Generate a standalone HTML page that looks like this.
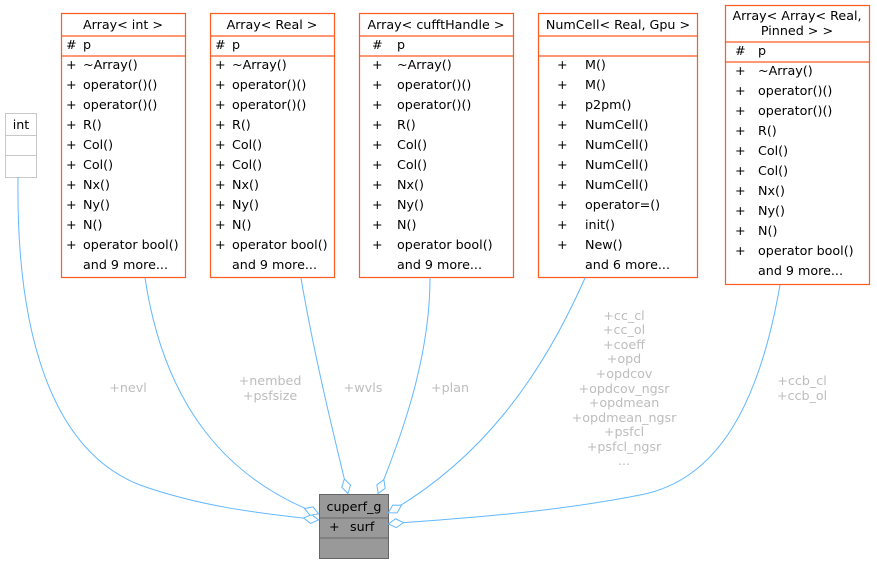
<!DOCTYPE html>
<html><head><meta charset="utf-8"><style>
body{margin:0;background:#fff}
svg{display:block;font-family:"DejaVu Sans","Liberation Sans",sans-serif;font-size:12.7px}
.b{fill:#fff;stroke:#ff5a1f;stroke-width:1.2}
.l{stroke:#ff5a1f;stroke-width:1.2}
.e{fill:none;stroke:#63b8ff;stroke-width:1}
.g{fill:#bdbdbd;text-anchor:middle}
</style></head><body>
<svg width="877" height="565" viewBox="0 0 877 565">
<defs><marker id="d" markerUnits="userSpaceOnUse" markerWidth="18" markerHeight="12" refX="16" refY="5" orient="auto"><path d="M0.5,5 L8,0.5 L15.5,5 L8,9.5 z" fill="#fff" stroke="#63b8ff"/></marker></defs>

<!-- int -->
<rect x="5.5" y="113.5" width="31" height="64" fill="#fff" stroke="#c8c8c8"/>
<line x1="5.5" y1="135.5" x2="36.5" y2="135.5" stroke="#c8c8c8"/>
<line x1="5.5" y1="155.5" x2="36.5" y2="155.5" stroke="#c8c8c8"/>
<text x="21" y="129" text-anchor="middle">int</text>

<!-- Array<int> -->
<g>
<rect class="b" x="61.5" y="13.5" width="124" height="264"/>
<line class="l" x1="61.5" y1="36" x2="185.5" y2="36"/><line class="l" x1="61.5" y1="56" x2="185.5" y2="56"/>
<text x="123" y="29" text-anchor="middle">Array&lt; int &gt;</text>
<text x="66" y="49">#</text><text x="83" y="49">p</text>
<text x="66" y="69">+</text><text x="83" y="69">~Array()</text>
<text x="66" y="89">+</text><text x="83" y="89">operator()()</text>
<text x="66" y="109">+</text><text x="83" y="109">operator()()</text>
<text x="66" y="129">+</text><text x="83" y="129">R()</text>
<text x="66" y="149">+</text><text x="83" y="149">Col()</text>
<text x="66" y="169">+</text><text x="83" y="169">Col()</text>
<text x="66" y="189">+</text><text x="83" y="189">Nx()</text>
<text x="66" y="209">+</text><text x="83" y="209">Ny()</text>
<text x="66" y="229">+</text><text x="83" y="229">N()</text>
<text x="66" y="249">+</text><text x="83" y="249">operator bool()</text>
<text x="83" y="269">and 9 more...</text>
</g>

<!-- Array<Real> -->
<g>
<rect class="b" x="210.5" y="13.5" width="124" height="264"/>
<line class="l" x1="210.5" y1="36" x2="334.5" y2="36"/><line class="l" x1="210.5" y1="56" x2="334.5" y2="56"/>
<text x="272" y="29" text-anchor="middle">Array&lt; Real &gt;</text>
<text x="215" y="49">#</text><text x="232" y="49">p</text>
<text x="215" y="69">+</text><text x="232" y="69">~Array()</text>
<text x="215" y="89">+</text><text x="232" y="89">operator()()</text>
<text x="215" y="109">+</text><text x="232" y="109">operator()()</text>
<text x="215" y="129">+</text><text x="232" y="129">R()</text>
<text x="215" y="149">+</text><text x="232" y="149">Col()</text>
<text x="215" y="169">+</text><text x="232" y="169">Col()</text>
<text x="215" y="189">+</text><text x="232" y="189">Nx()</text>
<text x="215" y="209">+</text><text x="232" y="209">Ny()</text>
<text x="215" y="229">+</text><text x="232" y="229">N()</text>
<text x="215" y="249">+</text><text x="232" y="249">operator bool()</text>
<text x="232" y="269">and 9 more...</text>
</g>

<!-- Array<cufftHandle> -->
<g>
<rect class="b" x="359.5" y="13.5" width="154" height="264"/>
<line class="l" x1="359.5" y1="36" x2="513.5" y2="36"/><line class="l" x1="359.5" y1="56" x2="513.5" y2="56"/>
<text x="436" y="29" text-anchor="middle">Array&lt; cufftHandle &gt;</text>
<text x="372" y="49">#</text><text x="397" y="49">p</text>
<text x="372" y="69">+</text><text x="397" y="69">~Array()</text>
<text x="372" y="89">+</text><text x="397" y="89">operator()()</text>
<text x="372" y="109">+</text><text x="397" y="109">operator()()</text>
<text x="372" y="129">+</text><text x="397" y="129">R()</text>
<text x="372" y="149">+</text><text x="397" y="149">Col()</text>
<text x="372" y="169">+</text><text x="397" y="169">Col()</text>
<text x="372" y="189">+</text><text x="397" y="189">Nx()</text>
<text x="372" y="209">+</text><text x="397" y="209">Ny()</text>
<text x="372" y="229">+</text><text x="397" y="229">N()</text>
<text x="372" y="249">+</text><text x="397" y="249">operator bool()</text>
<text x="397" y="269">and 9 more...</text>
</g>

<!-- NumCell -->
<g>
<rect class="b" x="538.5" y="13.5" width="159" height="264"/>
<line class="l" x1="538.5" y1="36" x2="697.5" y2="36"/><line class="l" x1="538.5" y1="56" x2="697.5" y2="56"/>
<text x="618" y="29" text-anchor="middle">NumCell&lt; Real, Gpu &gt;</text>
<text x="557" y="69">+</text><text x="585" y="69">M()</text>
<text x="557" y="89">+</text><text x="585" y="89">M()</text>
<text x="557" y="109">+</text><text x="585" y="109">p2pm()</text>
<text x="557" y="129">+</text><text x="585" y="129">NumCell()</text>
<text x="557" y="149">+</text><text x="585" y="149">NumCell()</text>
<text x="557" y="169">+</text><text x="585" y="169">NumCell()</text>
<text x="557" y="189">+</text><text x="585" y="189">NumCell()</text>
<text x="557" y="209">+</text><text x="585" y="209">operator=()</text>
<text x="557" y="229">+</text><text x="585" y="229">init()</text>
<text x="557" y="249">+</text><text x="585" y="249">New()</text>
<text x="585" y="269">and 6 more...</text>
</g>

<!-- Array<Array<Real,Pinned>> -->
<g>
<rect class="b" x="725.5" y="5.5" width="144" height="279"/>
<line class="l" x1="725.5" y1="42" x2="869.5" y2="42"/><line class="l" x1="725.5" y1="62" x2="869.5" y2="62"/>
<text x="797" y="20" text-anchor="middle">Array&lt; Array&lt; Real,</text>
<text x="797" y="35" text-anchor="middle">Pinned &gt; &gt;</text>
<text x="735" y="55">#</text><text x="758" y="55">p</text>
<text x="735" y="75">+</text><text x="758" y="75">~Array()</text>
<text x="735" y="95">+</text><text x="758" y="95">operator()()</text>
<text x="735" y="115">+</text><text x="758" y="115">operator()()</text>
<text x="735" y="135">+</text><text x="758" y="135">R()</text>
<text x="735" y="155">+</text><text x="758" y="155">Col()</text>
<text x="735" y="175">+</text><text x="758" y="175">Col()</text>
<text x="735" y="195">+</text><text x="758" y="195">Nx()</text>
<text x="735" y="215">+</text><text x="758" y="215">Ny()</text>
<text x="735" y="235">+</text><text x="758" y="235">N()</text>
<text x="735" y="255">+</text><text x="758" y="255">operator bool()</text>
<text x="758" y="275">and 9 more...</text>
</g>

<!-- cuperf_g -->
<rect x="319.5" y="494.5" width="69" height="64" fill="#999" stroke="#666"/>
<line x1="319.5" y1="518" x2="388.5" y2="518" stroke="#666"/>
<line x1="319.5" y1="538" x2="388.5" y2="538" stroke="#666"/>
<text x="354" y="511" text-anchor="middle">cuperf_g</text>
<text x="329" y="531">+</text><text x="350" y="531">surf</text>

<!-- edges -->
<path class="e" marker-end="url(#d)" d="M18,177 C16,330 50,450 140,485 C210,510 280,515 319,520"/>
<path class="e" marker-end="url(#d)" d="M145,278 C165,410 230,480 319,514"/>
<path class="e" marker-end="url(#d)" d="M301,278 C315,360 335,440 348,494"/>
<path class="e" marker-end="url(#d)" d="M430,278 C430,360 400,440 378,494"/>
<path class="e" marker-end="url(#d)" d="M585,278 C540,380 480,460 388,513"/>
<path class="e" marker-end="url(#d)" d="M780,285 C760,400 720,480 640,495 C540,515 430,520 388,524"/>

<!-- labels -->
<text class="g" x="128" y="392">+nevl</text>
<text class="g" x="270" y="385">+nembed</text><text class="g" x="270" y="400">+psfsize</text>
<text class="g" x="363" y="392">+wvls</text>
<text class="g" x="450" y="392">+plan</text>
<text class="g" x="624" y="320">+cc_cl</text>
<text class="g" x="624" y="334">+cc_ol</text>
<text class="g" x="624" y="349">+coeff</text>
<text class="g" x="624" y="363">+opd</text>
<text class="g" x="624" y="378">+opdcov</text>
<text class="g" x="624" y="393">+opdcov_ngsr</text>
<text class="g" x="624" y="407">+opdmean</text>
<text class="g" x="624" y="422">+opdmean_ngsr</text>
<text class="g" x="624" y="436">+psfcl</text>
<text class="g" x="624" y="451">+psfcl_ngsr</text>
<text class="g" x="624" y="465">...</text>
<text class="g" x="802" y="385">+ccb_cl</text><text class="g" x="802" y="400">+ccb_ol</text>
</svg>
</body></html>
